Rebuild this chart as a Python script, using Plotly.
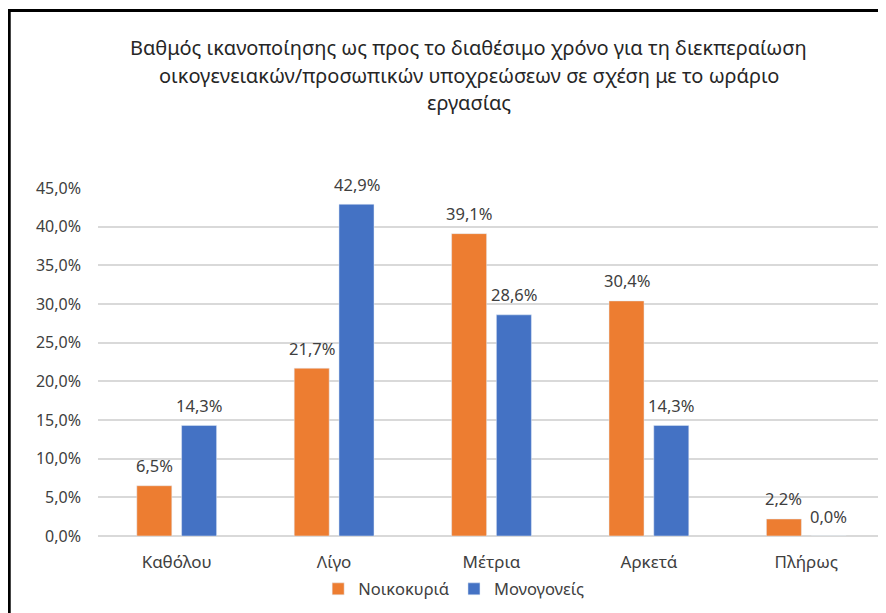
import plotly.graph_objs as go

categories = ["Καθόλου", "Λίγο", "Μέτρια", "Αρκετά", "Πλήρως"]
noikokyria = [0.065, 0.217, 0.391, 0.304, 0.022]
monogoneis = [0.143, 0.429, 0.286, 0.143, 0.000]

title_lines = ["Βαθμός ικανοποίησης ως προς το διαθέσιμο χρόνο για τη διεκπεραίωση",
               "οικογενειακών/προσωπικών υποχρεώσεων σε σχέση με το ωράριο",
               "εργασίας"]

font_family = "Noto Sans, Open Sans, sans-serif"
label_color = "#404040"

fig = go.Figure()
fig.add_trace(go.Bar(x=categories, y=noikokyria, name="Νοικοκυριά",
                     marker_color="#ED7D31"))
fig.add_trace(go.Bar(x=categories, y=monogoneis, name="Μονογονείς",
                     marker_color="#4472C4"))

# data labels above each bar (offset to the bar of each series)
for vals, shift in [(noikokyria, -22.4), (monogoneis, 22.4)]:
    for c, v in zip(categories, vals):
        fig.add_annotation(x=c, y=v, text=f"{v*100:.1f}%".replace(".", ","),
                           showarrow=False, xshift=shift, yshift=20,
                           yanchor="middle",
                           font=dict(size=16.5, color=label_color))

# title, one line per annotation to get Excel-like line spacing
for line, ypos in zip(title_lines, [1.405, 1.3247, 1.2443]):
    fig.add_annotation(x=0.4714, y=ypos, xref="paper", yref="paper",
                       text=line, showarrow=False, yanchor="middle",
                       font=dict(size=20, color="#262626"))

fig.update_layout(
    width=886, height=613,
    separators=",.",
    font=dict(family=font_family, color=label_color, size=14),
    paper_bgcolor="white", plot_bgcolor="white",
    margin=dict(l=90, r=9, t=180, b=85, autoexpand=False),
    bargap=0.431, bargroupgap=0.218,
    legend=dict(orientation="h", x=0.503, xref="container", xanchor="center",
                y=0.052, yref="container", yanchor="middle",
                font=dict(size=16.5, color=label_color), itemwidth=30,
                traceorder="normal"),
    showlegend=True,
)
fig.update_xaxes(range=[-0.5, 4.5], showline=False, ticks="", automargin=False,
                 ticklabelstandoff=14,
                 tickfont=dict(size=17, color=label_color))
fig.update_yaxes(range=[0, 0.45], dtick=0.05, tickformat=".1%", automargin=False,
                 showgrid=True, gridcolor="#D9D9D9", gridwidth=1.5,
                 zeroline=True, zerolinecolor="#D9D9D9", zerolinewidth=1.5,
                 ticks="", ticklabelstandoff=16,
                 tickfont=dict(size=16, color=label_color))

fig.add_shape(type="rect", xref="paper", yref="paper",
              x0=-0.1128, x1=1.1, y0=-0.5, y1=1.510,
              line=dict(color="black", width=3), layer="above")

fig.write_html("out.html")
